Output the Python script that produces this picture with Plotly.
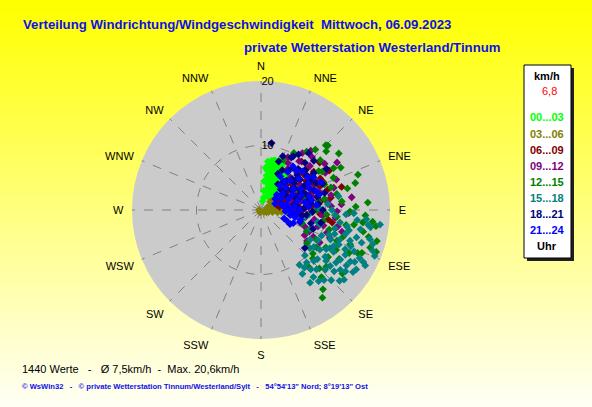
import plotly.graph_objects as go

# ----------------------------
# Data (direction in degrees, speed in km/h)
# ----------------------------

directions = ["N", "NNE", "NE", "ENE", "E", "ESE", "SE", "SSE",
              "S", "SSW", "SW", "WSW", "W", "WNW", "NW", "NNW"]
direction_deg = [0, 22.5, 45, 67.5, 90, 112.5, 135, 157.5,
                 180, 202.5, 225, 247.5, 270, 292.5, 315, 337.5]
radial_ticks = [10, 20]

periods = ["00...03", "03...06", "06...09", "09...12",
           "12...15", "15...18", "18...21", "21...24"]
period_colors = ["#00ff00", "#808000", "#800000", "#800080",
                 "#008000", "#008080", "#000080", "#0000ff"]

dir_00_03 = [8, 12, 15, 20, 25, 10, 14, 18, 22, 28, 32, 12, 16, 20, 26, 30, 35, 38, 15, 19,
             24, 29, 34, 40, 22, 27, 33, 42, 30, 38, 45, 40, 50, 18, 11, 24, 36, 44, 9, 13,
             17, 21, 26, 16, 10, 13, 17, 21, 23, 27, 31, 34, 19, 25, 36, 28, 43, 46, 14, 20,
             6, 9, 12, 16, 24, 8, 12, 6, 10]
spd_00_03 = [7.6, 7.8, 7.4, 7.7, 7.5, 6.8, 6.5, 6.9, 6.2, 6.6, 6.0, 5.8, 5.5, 5.2, 5.6, 5.0, 5.4, 6.2, 4.6, 4.2,
             4.5, 4.0, 4.4, 4.8, 3.5, 3.2, 3.6, 3.8, 2.6, 2.8, 3.0, 2.2, 2.5, 6.1, 7.1, 7.0, 6.8, 5.8, 6.2, 5.1,
             3.9, 2.9, 8.1, 8.0, 7.3, 6.0, 7.2, 6.6, 5.4, 6.0, 5.6, 6.4, 5.0, 4.2, 4.2, 3.0, 4.4, 5.0, 7.9, 8.2,
             6.6, 5.4, 4.4, 3.4, 2.4, 3.0, 2.0, 4.5, 1.4]

dir_03_06 = [60, 70, 75, 80, 85, 88, 92, 95, 100, 105, 78, 83, 65, 55, 50, 72, 90, 110, 120, 68,
             87, 98, 62, 48, 58, 76, 94, 81, 270, 200, 84, 79, 91, 73]
spd_03_06 = [2.5, 3.0, 2.0, 3.5, 2.8, 1.5, 2.2, 3.2, 1.8, 1.2, 4.2, 4.5, 3.8, 3.2, 2.7, 1.0, 0.8, 0.9, 0.6, 2.2,
             3.9, 2.6, 1.6, 1.9, 3.5, 2.6, 4.0, 1.8, 0.3, 0.4, 3.0, 2.4, 1.4, 3.3]

dir_06_09 = [45, 50, 52, 55, 57, 60, 62, 64, 66, 68, 70, 72, 74, 76, 78, 80, 82, 85, 88, 90,
             51, 58, 60, 74, 98, 100, 103, 48, 54, 66, 70, 63, 80, 58, 67, 73, 61, 69, 56, 84,
             92, 95, 44, 40, 47, 53, 59, 63, 65, 71, 77, 79, 83, 86, 89, 57, 61, 75, 68, 50,
             94, 73, 62, 80, 72, 76, 66, 70]
spd_06_09 = [5.5, 6.2, 7.5, 4.8, 8.3, 5.6, 6.9, 9.0, 4.2, 7.2, 5.9, 8.1, 3.8, 6.4, 7.6, 5.0, 9.3, 4.4, 6.8, 5.4,
             11.7, 11.7, 12.2, 13.0, 10.5, 11.2, 12.0, 9.4, 10.1, 10.6, 3.2, 3.6, 2.9, 4.1, 5.3, 6.0, 7.8, 8.6, 9.6, 7.3,
             8.0, 6.2, 8.1, 9.8, 6.8, 5.1, 7.1, 8.0, 6.1, 4.7, 8.9, 6.1, 5.7, 7.9, 4.1, 5.8, 4.5, 5.1, 9.8, 8.6,
             9.2, 10.8, 10.4, 11.0, 2.6, 3.4, 3.0, 4.4]

dir_09_12 = [27, 36, 40, 45, 48, 52, 55, 58, 60, 62, 65, 68, 70, 72, 75, 78, 80, 83, 86, 88,
             90, 93, 96, 100, 104, 108, 111, 114, 117, 120, 98, 85, 76, 64, 50, 42, 33, 105, 92, 82,
             30, 38, 44, 54, 57, 63, 67, 73, 77, 81, 87, 91, 95, 99, 102, 106, 109, 112, 119, 124]
spd_09_12 = [9.2, 10.9, 12.0, 8.0, 10.2, 6.5, 9.0, 13.9, 11.5, 7.8, 10.0, 12.6, 6.8, 9.4, 8.2, 11.1, 7.0, 10.4, 12.5, 6.1,
             9.0, 7.6, 11.6, 8.4, 10.0, 6.5, 7.3, 8.2, 9.1, 7.8, 5.6, 5.2, 4.8, 5.8, 4.4, 6.8, 7.6, 13.0, 13.6, 14.2,
             8.4, 9.6, 11.4, 12.2, 7.2, 9.8, 8.6, 11.8, 6.2, 9.0, 10.9, 11.8, 9.6, 7.0, 12.2, 9.2, 10.8, 11.5, 10.4, 8.6]

dir_12_15 = [24, 30, 38, 45, 46, 50, 54, 56, 60, 64, 66, 70, 72, 76, 80, 84, 88, 93, 95, 97,
             100, 103, 105, 108, 109, 112, 113, 116, 120, 122, 125, 128, 130, 133, 135, 138, 142, 145, 108, 115,
             90, 75, 62, 100, 118, 126, 104, 98, 42, 48, 58, 62, 68, 74, 78, 82, 86, 91, 94, 99,
             102, 106, 111, 114, 118, 124, 131, 140, 110, 96]
spd_12_15 = [8.5, 10.2, 11.5, 14.2, 14.4, 12.0, 14.9, 10.8, 13.0, 9.5, 12.3, 16.0, 11.4, 13.8, 10.0, 12.6, 14.7, 16.2, 11.8, 15.9,
             13.4, 20.1, 18.6, 13.4, 17.9, 12.7, 17.0, 15.2, 11.6, 14.3, 12.7, 16.0, 10.5, 11.0, 12.8, 14.0, 15.6, 16.6, 6.7, 7.8,
             8.6, 7.2, 6.6, 9.8, 9.6, 8.8, 17.2, 18.0, 12.6, 13.6, 11.2, 14.0, 10.6, 15.2, 12.0, 9.0, 16.6, 13.8, 10.2, 14.6,
             16.2, 11.0, 14.8, 16.4, 13.2, 10.4, 13.4, 11.6, 19.0, 17.4]

dir_15_18 = [90, 93, 94, 96, 97, 99, 101, 102, 104, 105, 106, 108, 109, 110, 111, 112, 113, 114, 115, 116,
             117, 118, 119, 120, 121, 122, 123, 124, 124, 126, 127, 128, 129, 130, 132, 133, 134, 136, 138, 140,
             142, 145, 147, 100, 95, 88, 85, 80, 107, 98, 111, 118, 92, 95, 99, 103, 106, 108, 110, 112,
             114, 116, 118, 120, 121, 122, 125, 126, 128, 130, 131, 135, 137, 139, 141, 143, 146, 125, 119, 113,
             104, 101]
spd_15_18 = [11.0, 13.2, 11.5, 15.0, 18.6, 12.4, 15.7, 9.0, 9.4, 17.5, 13.6, 16.4, 14.6, 11.2, 8.2, 19.0, 11.7, 15.8, 14.4, 12.6,
             17.8, 10.0, 16.6, 13.0, 8.9, 14.5, 15.8, 11.0, 17.2, 12.3, 15.4, 9.6, 13.8, 16.8, 16.4, 13.6, 11.4, 9.8, 14.6, 12.0,
             13.2, 10.4, 11.8, 6.8, 7.5, 9.0, 10.4, 12.2, 18.1, 16.8, 13.0, 18.3, 14.4, 16.4, 17.2, 14.0, 15.4, 12.0, 18.4, 15.0,
             13.2, 17.0, 14.8, 16.0, 11.8, 17.4, 14.2, 16.2, 12.8, 14.8, 11.6, 15.4, 12.6, 10.8, 14.2, 11.2, 13.6, 10.0, 12.2, 10.2,
             11.8, 13.6]

dir_18_21 = [9, 20, 25, 30, 31, 35, 38, 40, 42, 45, 47, 48, 50, 52, 55, 57, 60, 62, 64, 66,
             68, 70, 72, 75, 78, 80, 84, 88, 92, 96, 102, 110, 131, 58, 44, 33, 22, 28, 34, 37,
             41, 43, 49, 53, 56, 59, 63, 67, 71, 74, 77, 82, 86, 90, 98, 105, 46, 51, 61, 69]
spd_18_21 = [10.5, 8.0, 6.2, 9.4, 9.7, 7.4, 5.6, 11.5, 8.6, 6.8, 11.2, 9.2, 5.0, 7.7, 10.0, 6.2, 8.4, 4.6, 9.5, 7.0,
             5.6, 8.8, 6.4, 10.2, 7.6, 5.2, 9.0, 6.6, 8.0, 7.1, 9.5, 8.6, 9.0, 12.0, 4.4, 4.8, 9.0, 7.0, 10.4, 8.2,
             6.0, 10.0, 7.4, 8.9, 5.6, 9.2, 6.8, 10.4, 7.4, 5.8, 9.0, 7.8, 5.8, 9.6, 6.4, 8.0, 7.8, 6.6, 7.6, 6.2]

dir_21_24 = [30, 35, 38, 42, 45, 48, 50, 53, 55, 57, 60, 62, 64, 66, 68, 70, 72, 74, 76, 78,
             80, 82, 84, 86, 88, 90, 93, 96, 100, 104, 107, 110, 113, 116, 58, 65, 75, 52, 66, 46,
             85, 40, 36, 47, 61, 71, 79, 94, 102, 112]
spd_21_24 = [6.0, 7.2, 4.8, 8.2, 6.4, 5.2, 7.6, 4.2, 8.8, 6.0, 3.6, 7.0, 5.4, 8.2, 4.6, 6.6, 3.2, 7.8, 5.8, 4.0,
             6.9, 3.6, 5.2, 7.4, 4.4, 6.0, 3.8, 5.4, 4.6, 6.3, 6.3, 3.8, 4.4, 5.0, 9.6, 10.2, 9.4, 2.8, 2.4, 3.4,
             8.6, 5.8, 8.4, 8.8, 8.4, 9.0, 8.0, 4.8, 5.4, 5.4]

all_dirs = [dir_00_03, dir_03_06, dir_06_09, dir_09_12, dir_12_15, dir_15_18, dir_18_21, dir_21_24]
all_spds = [spd_00_03, spd_03_06, spd_06_09, spd_09_12, spd_12_15, spd_15_18, spd_18_21, spd_21_24]

# ----------------------------
# Helpers (pixel -> paper)
# ----------------------------

W, H = 592, 407


def px(x):
    return x / W


def py(y):
    return 1 - y / H


FONT = "Arial, Liberation Sans, sans-serif"


def label(text, x, y, size=11, color="black", anchor="left"):
    return dict(text=text, x=px(x), y=py(y), xref="paper", yref="paper",
                xanchor=anchor, yanchor="middle", showarrow=False,
                font=dict(family=FONT, size=size, color=color))


# ----------------------------
# Figure
# ----------------------------

fig = go.Figure()

for period, color, d, s in zip(periods, period_colors, all_dirs, all_spds):
    fig.add_trace(go.Scatterpolar(
        r=s, theta=d, mode="markers", name=period,
        marker=dict(symbol="diamond", size=6, color=color, line=dict(width=0)),
        hoverinfo="skip",
    ))

# background gradient yellow -> pale
shapes = []
n_strip = 60
for i in range(n_strip):
    t = i / (n_strip - 1)
    b = int(245 * t)
    shapes.append(dict(type="rect", xref="paper", yref="paper", layer="below",
                       x0=0, x1=1, y0=1 - (i + 1) / n_strip - 0.002, y1=1 - i / n_strip,
                       fillcolor=f"rgb(255,255,{b})", line=dict(width=0)))

# legend box with shadow
shapes.append(dict(type="rect", xref="paper", yref="paper",
                   x0=px(527), x1=px(574), y0=py(261), y1=py(68),
                   fillcolor="#202020", line=dict(width=0)))
shapes.append(dict(type="rect", xref="paper", yref="paper",
                   x0=px(524), x1=px(571), y0=py(258), y1=py(65),
                   fillcolor="white", line=dict(color="black", width=1)))

annotations = [
    label("<b>Verteilung Windrichtung/Windgeschwindigkeit  Mittwoch, 06.09.2023</b>", 21, 24,
          size=13.2, color="#1010e8"),
    label("<b>private Wetterstation Westerland/Tinnum</b>", 242, 48, size=13.2, color="#1010e8"),
    label("<b>km/h</b>", 547, 76, anchor="center"),
    label("6,8", 549, 91, color="red", anchor="center"),
    label("<b>Uhr</b>", 547, 246, anchor="center"),
    label("1440 Werte   -   Ø 7,5km/h  -  Max. 20,6km/h", 20, 369),
    label("<b>© WsWin32   -   © private Wetterstation Tinnum/Westerland/Sylt   -   "
          "54°54'13\" Nord; 8°19'13\" Ost</b>", 20, 386, size=7.6, color="#1010e8"),
]

legend_y = [117, 134, 150, 166, 182, 198, 214, 230]
for period, color, ly in zip(periods, period_colors, legend_y):
    annotations.append(label(f"<b>{period}</b>", 547, ly, color=color, anchor="center"))

fig.update_layout(
    width=W, height=H,
    margin=dict(l=0, r=0, t=0, b=0),
    paper_bgcolor="#ffff00",
    showlegend=False,
    hovermode=False,
    shapes=shapes,
    annotations=annotations,
    polar=dict(
        domain=dict(x=[px(132), px(390)], y=[py(339), py(81)]),
        bgcolor="#cbcbcb",
        radialaxis=dict(
            range=[0, 20], tickvals=radial_ticks, angle=90, tickangle=90,
            showline=False, ticks="", gridcolor="#808080", griddash="dash",
            tickfont=dict(family=FONT, size=11, color="black"),
        ),
        angularaxis=dict(
            direction="clockwise", rotation=90,
            tickvals=direction_deg, ticktext=directions,
            showline=False, ticks="outside", ticklen=6, tickcolor="rgba(0,0,0,0)",
            gridcolor="#808080", griddash="dash",
            tickfont=dict(family=FONT, size=11, color="black"),
        ),
    ),
)

fig.write_html("out.html", config={"displayModeBar": False},
               post_script="document.body.style.margin='0px';")
